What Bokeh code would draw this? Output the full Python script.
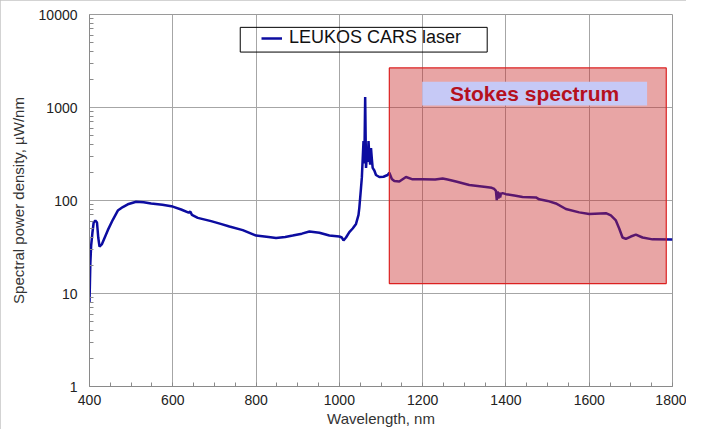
from bokeh.plotting import figure
from bokeh.models import FixedTicker, NumeralTickFormatter, Range1d
from bokeh.core.properties import value
from bokeh.embed import file_html
from bokeh.resources import INLINE

# ---- data ----
wavelength = [400, 401, 402, 404, 407, 410, 414, 418, 421, 424, 430, 444, 456, 468, 480,
              492, 512, 530, 548, 575, 600, 620, 638, 642, 646, 660, 692, 715, 736, 768,
              800, 830, 848, 870, 888, 910, 928, 952, 976, 1000, 1006, 1010, 1016, 1024,
              1032, 1040, 1046, 1048, 1052, 1054, 1058, 1060, 1062, 1064, 1066, 1068, 1070,
              1072, 1074, 1076, 1078, 1080, 1084, 1088, 1096, 1106, 1116, 1120, 1126, 1132,
              1144, 1160, 1176, 1200, 1230, 1248, 1260, 1280, 1312, 1352, 1366, 1372, 1376,
              1378, 1380, 1382, 1384, 1386, 1388, 1392, 1400, 1420, 1440, 1472, 1480, 1500,
              1520, 1544, 1576, 1600, 1640, 1652, 1664, 1672, 1680, 1688, 1700, 1712, 1728,
              1752, 1800]
power = [8, 13, 21, 33, 45, 58, 61, 58, 40, 32, 34, 48, 62, 78, 85,
         91, 97, 96, 93, 90, 86, 80, 74, 76, 70, 65, 60, 56, 52.5, 48,
         42, 40.5, 39.5, 40.5, 42, 44, 46.4, 45, 42, 41, 40, 37.2, 40, 45.7,
         50, 56, 70, 84, 137, 176, 435, 250, 1300, 224, 300, 260, 435,
         300, 243, 366, 280, 224, 210, 188, 179, 180, 188, 199, 170, 162,
         160, 179, 169, 169, 168, 172, 168, 160, 147, 140, 137, 133, 127,
         101, 125, 105, 122, 108, 118, 120, 117, 113, 109, 108, 103, 99,
         93, 81, 74.5, 71.5, 73, 69, 61, 50, 40, 38.6, 41, 43, 40,
         38.2, 38]

series_label = "LEUKOS CARS laser"
x_ticks = [400, 600, 800, 1000, 1200, 1400, 1600, 1800]
y_ticks = [1, 10, 100, 1000, 10000]

# annotation regions (data units)
stokes_x = (1120, 1785)
stokes_y = (12.8, 2666)
stokes_label_x = (1199, 1739)
stokes_label_y = (1049, 1893)
stokes_text = "Stokes spectrum"
legend_box_x = (762, 1355)
legend_box_y = (3945, 7275)

FONT = "Liberation Sans"

p = figure(width=686, height=429, y_axis_type="log",
           x_range=Range1d(400, 1800), y_range=Range1d(1, 10000),
           output_backend="svg", toolbar_location=None,
           min_border_left=89, min_border_right=14, min_border_top=14, min_border_bottom=43)
p.styles = {"outline": "1px solid #c4c4c4", "outline-offset": "-1px"}
p.background_fill_color = "white"
p.border_fill_color = "white"
p.outline_line_color = "#9a9a9a"

# grid
p.xgrid.grid_line_color = "#a6a6a6"
p.ygrid.grid_line_color = "#a6a6a6"
p.xgrid.grid_line_width = 1
p.ygrid.grid_line_width = 1

# axes
minor_x = list(range(400, 1801, 50))
minor_y = [m * 10 ** e for e in range(0, 4) for m in range(2, 10)]
p.xaxis.ticker = FixedTicker(ticks=x_ticks, minor_ticks=minor_x)
p.yaxis.ticker = FixedTicker(ticks=y_ticks, minor_ticks=minor_y)
p.yaxis.formatter = NumeralTickFormatter(format="0")
for ax in (p.xaxis, p.yaxis):
    ax.axis_line_color = "#8a8a8a"
    ax.major_tick_line_color = "#8a8a8a"
    ax.minor_tick_line_color = "#8a8a8a"
    ax.major_tick_in = 0
    ax.major_tick_out = 0
    ax.minor_tick_in = 4
    ax.minor_tick_out = 0
    ax.major_label_text_font = FONT
    ax.major_label_text_font_size = "14px"
    ax.major_label_text_color = "#222222"
    ax.axis_label_text_font = FONT
    ax.axis_label_text_font_size = "15px"
    ax.axis_label_text_font_style = "normal"
    ax.axis_label_text_color = "#333333"
p.xaxis.major_label_standoff = 8
p.xaxis.axis_label_standoff = 2
p.yaxis.major_label_standoff = 12
p.yaxis.axis_label_standoff = 9
p.xaxis.axis_label = "Wavelength, nm"
p.yaxis.axis_label = "Spectral power density, µW/nm"

# spectrum line
p.line(wavelength, power, line_width=2.5, line_color="#0c0ca0", legend_label=series_label)

# Stokes region overlay
p.quad(left=[stokes_x[0]], right=[stokes_x[1]], bottom=[stokes_y[0]], top=[stokes_y[1]],
       fill_color="#c82828", fill_alpha=0.42, line_color="#dc2020", line_width=1.2)
p.quad(left=[stokes_label_x[0]], right=[stokes_label_x[1]],
       bottom=[stokes_label_y[0]], top=[stokes_label_y[1]],
       fill_color="#c6c9f6", line_color=None)
p.text(x=[(stokes_label_x[0] + stokes_label_x[1]) / 2],
       y=[(stokes_label_y[0] * stokes_label_y[1]) ** 0.5],
       text=[stokes_text], text_align="center", text_baseline="middle",
       text_font=value(FONT), text_font_size="21px", text_font_style="bold",
       text_color="#b5101e")

# legend frame
p.quad(left=[legend_box_x[0]], right=[legend_box_x[1]],
       bottom=[legend_box_y[0]], top=[legend_box_y[1]],
       fill_alpha=0, line_color="black", line_width=1)

lg = p.legend[0]
lg.location = (172, 338)
lg.padding = 0
lg.margin = 0
lg.border_line_alpha = 0
lg.background_fill_alpha = 0
lg.label_text_font = FONT
lg.label_text_font_size = "18px"
lg.label_text_color = "#111111"
lg.glyph_width = 21
lg.label_standoff = 7
lg.label_height = 21

open("out.html", "w").write(file_html(p, INLINE))
